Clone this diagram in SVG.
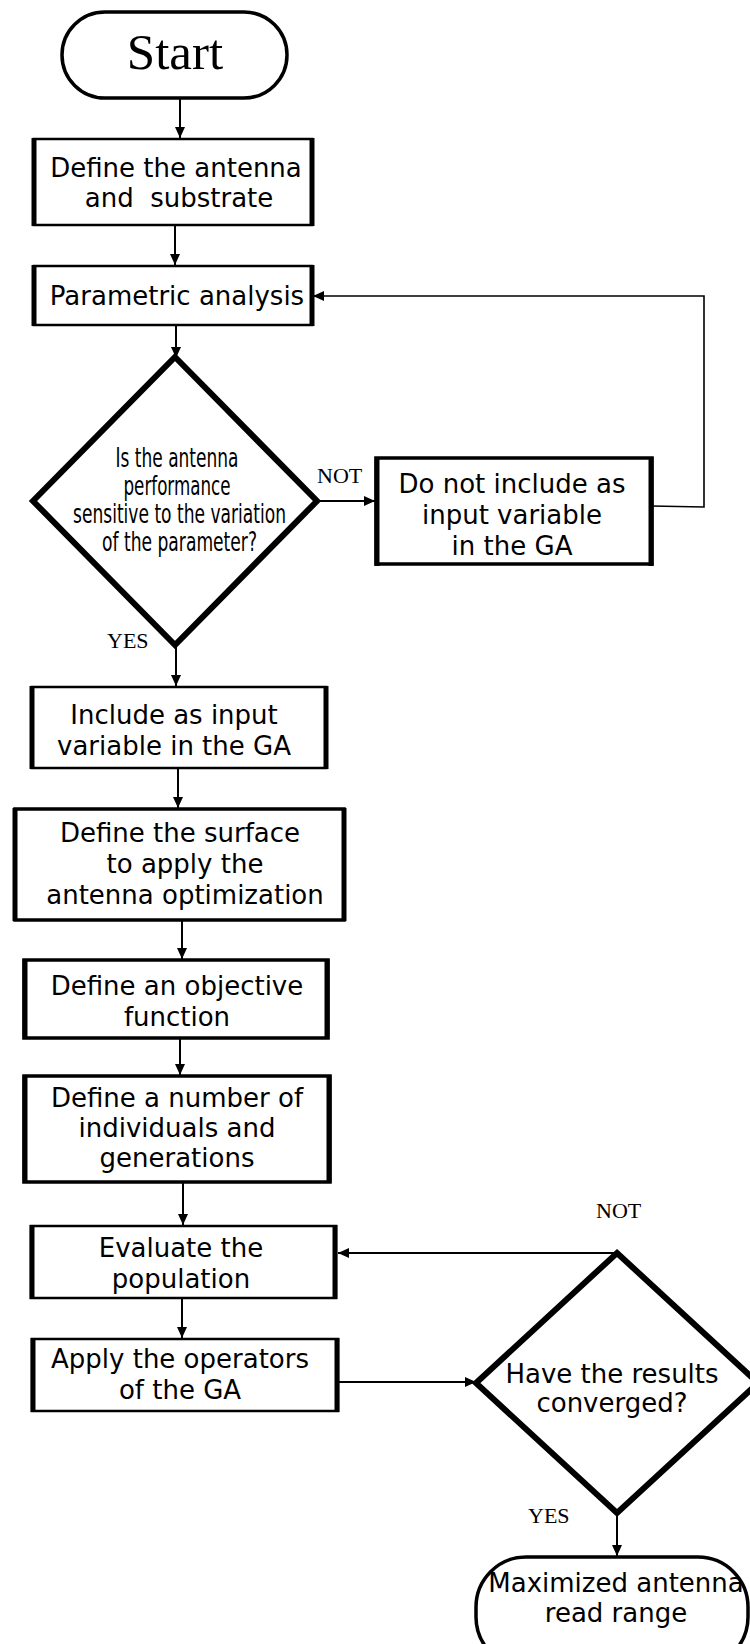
<svg xmlns="http://www.w3.org/2000/svg" width="750" height="1644" viewBox="0 0 750 1644">
<style>
.bg{fill:#fff}
.box{fill:#fff;stroke:#000;stroke-width:2.5}
.boxt{fill:#fff;stroke:#000;stroke-width:3.5}
.side{stroke:#000;stroke-width:5}
.dia{fill:#fff;stroke:#000;stroke-width:6;stroke-linejoin:miter}
.pill{fill:#fff;stroke:#000;stroke-width:3.5}
.t{font-family:"DejaVu Sans",sans-serif;font-size:26px;fill:#000;text-anchor:middle}
.c{font-family:"DejaVu Sans Condensed","DejaVu Sans",sans-serif;font-size:27px;fill:#000;text-anchor:middle}
.s{font-family:"Liberation Serif",serif;font-size:22px;fill:#000}
.big{font-family:"Liberation Serif",serif;font-size:51px;fill:#000;text-anchor:middle}
.ln{fill:none;stroke:#000;stroke-width:2}
.thin{fill:none;stroke:#000;stroke-width:1.6}
</style>
<defs>
<marker id="ah" markerUnits="userSpaceOnUse" markerWidth="12" markerHeight="10" refX="11" refY="5" orient="auto">
<path d="M0,0 L11,5 L0,10 z" fill="#000"/>
</marker>
</defs>
<rect class="bg" x="0" y="0" width="750" height="1644"/>

<g id="connectors">
<line class="ln" x1="180" y1="98" x2="180" y2="138" marker-end="url(#ah)"/>
<line class="ln" x1="175" y1="226" x2="175" y2="265" marker-end="url(#ah)"/>
<line class="ln" x1="176" y1="325" x2="176" y2="358" marker-end="url(#ah)"/>
<line class="ln" x1="317" y1="501" x2="375" y2="501" marker-end="url(#ah)"/>
<polyline class="thin" points="651,506 704,507 704,296 313,296" marker-end="url(#ah)"/>
<line class="ln" x1="176" y1="645" x2="176" y2="686" marker-end="url(#ah)"/>
<line class="ln" x1="178" y1="768" x2="178" y2="808" marker-end="url(#ah)"/>
<line class="ln" x1="182" y1="921" x2="182" y2="959" marker-end="url(#ah)"/>
<line class="ln" x1="180" y1="1038" x2="180" y2="1075" marker-end="url(#ah)"/>
<line class="ln" x1="183" y1="1183" x2="183" y2="1225" marker-end="url(#ah)"/>
<line class="ln" x1="182" y1="1298" x2="182" y2="1338" marker-end="url(#ah)"/>
<line class="ln" x1="339" y1="1382" x2="476" y2="1382" marker-end="url(#ah)"/>
<line class="ln" x1="617" y1="1253" x2="338" y2="1253" marker-end="url(#ah)"/>
<line class="ln" x1="617" y1="1513" x2="617" y2="1556" marker-end="url(#ah)"/>
</g>

<g id="start">
<rect class="pill" x="62" y="12" width="225" height="86" rx="43"/>
<text class="big" x="175" y="69">Start</text>
</g>

<g id="define-antenna">
<rect class="box" x="34" y="139" width="278" height="86"/>
<line class="side" x1="34" y1="138" x2="34" y2="226"/><line class="side" x1="312" y1="138" x2="312" y2="226"/>
<text class="t" x="176" y="177">Define the antenna</text>
<text class="t" x="179" y="207">and&#160; substrate</text>
</g>

<g id="parametric">
<rect class="box" x="34" y="266" width="278" height="59"/>
<line class="side" x1="34" y1="265" x2="34" y2="326"/><line class="side" x1="312" y1="265" x2="312" y2="326"/>
<text class="t" x="177" y="305">Parametric analysis</text>
</g>

<g id="decision-sensitive">
<polygon class="dia" points="175,357 317,501 175,645 33,501"/>
<text class="c" x="177" y="467" textLength="123" lengthAdjust="spacingAndGlyphs">Is the antenna</text>
<text class="c" x="177" y="495" textLength="107" lengthAdjust="spacingAndGlyphs">performance</text>
<text class="c" x="179.5" y="523" textLength="213" lengthAdjust="spacingAndGlyphs">sensitive to the variation</text>
<text class="c" x="179.5" y="551" textLength="155" lengthAdjust="spacingAndGlyphs">of the parameter?</text>
</g>
<text class="s" x="317" y="483">NOT</text>
<text class="s" x="107" y="648">YES</text>

<g id="not-include">
<rect class="boxt" x="376" y="458" width="276" height="106"/>
<line class="side" x1="377" y1="457" x2="377" y2="566"/><line class="side" x1="651" y1="457" x2="651" y2="566"/>
<text class="t" x="512" y="493">Do not include as</text>
<text class="t" x="512" y="524">input variable</text>
<text class="t" x="512" y="555">in the GA</text>
</g>

<g id="include">
<rect class="box" x="32" y="687" width="294" height="81"/>
<line class="side" x1="32" y1="686" x2="32" y2="769"/><line class="side" x1="326" y1="686" x2="326" y2="769"/>
<text class="t" x="174" y="724">Include as input</text>
<text class="t" x="174" y="755">variable in the GA</text>
</g>

<g id="surface">
<rect class="boxt" x="15" y="809" width="329" height="111"/>
<line class="side" x1="15" y1="808" x2="15" y2="921"/><line class="side" x1="344" y1="808" x2="344" y2="921"/>
<text class="t" x="180" y="842">Define the surface</text>
<text class="t" x="185" y="873">to apply the</text>
<text class="t" x="185" y="904">antenna optimization</text>
</g>

<g id="objective">
<rect class="boxt" x="24" y="960" width="304" height="78"/>
<line class="side" x1="25" y1="959" x2="25" y2="1039"/><line class="side" x1="327" y1="959" x2="327" y2="1039"/>
<text class="t" x="177" y="995">Define an objective</text>
<text class="t" x="177" y="1026">function</text>
</g>

<g id="individuals">
<rect class="boxt" x="24" y="1076" width="306" height="106"/>
<line class="side" x1="25" y1="1075" x2="25" y2="1183"/><line class="side" x1="329" y1="1075" x2="329" y2="1183"/>
<text class="t" x="177" y="1107">Define a number of</text>
<text class="t" x="177" y="1137">individuals and</text>
<text class="t" x="177" y="1167">generations</text>
</g>

<g id="evaluate">
<rect class="box" x="31" y="1226" width="305" height="72"/>
<line class="side" x1="32" y1="1225" x2="32" y2="1299"/><line class="side" x1="335" y1="1225" x2="335" y2="1299"/>
<text class="t" x="181" y="1257">Evaluate the</text>
<text class="t" x="181" y="1288">population</text>
</g>

<g id="operators">
<rect class="box" x="32" y="1339" width="306" height="72"/>
<line class="side" x1="33" y1="1338" x2="33" y2="1412"/><line class="side" x1="337" y1="1338" x2="337" y2="1412"/>
<text class="t" x="180" y="1368">Apply the operators</text>
<text class="t" x="180" y="1399">of the GA</text>
</g>

<g id="decision-converged">
<polygon class="dia" points="617,1253 758,1383 617,1513 476,1383"/>
<text class="t" x="612" y="1383">Have the results</text>
<text class="t" x="612" y="1412">converged?</text>
</g>
<text class="s" x="596" y="1218">NOT</text>
<text class="s" x="528" y="1523">YES</text>

<g id="end">
<rect class="pill" x="476" y="1557" width="272" height="110" rx="50"/>
<text class="t" x="616" y="1592">Maximized antenna</text>
<text class="t" x="616" y="1622">read range</text>
</g>
</svg>
